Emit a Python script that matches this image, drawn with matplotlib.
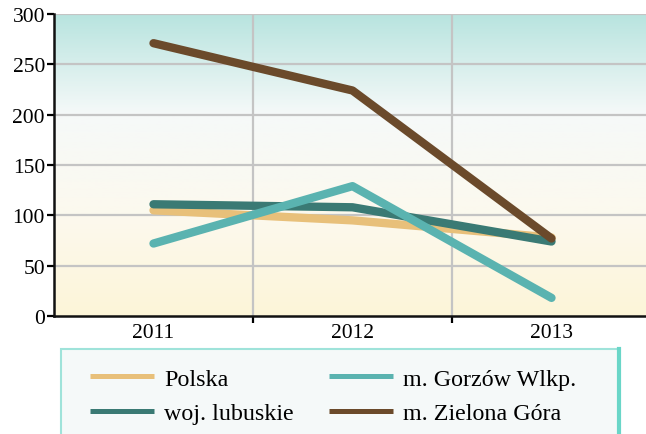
import numpy as np
import matplotlib.pyplot as plt
from matplotlib.colors import LinearSegmentedColormap
from matplotlib.patches import Rectangle

plt.rcParams['font.family'] = ['Liberation Serif', 'DejaVu Serif']

years = ['2011', '2012', '2013']
polska = [105, 95, 78]
lubuskie = [111, 108, 74]
gorzow = [72, 129, 18]
zielona_gora = [271, 224, 77]

series = [
    ('Polska', polska, '#e8c07a'),
    ('woj. lubuskie', lubuskie, '#3a7a74'),
    ('m. Gorzów Wlkp.', gorzow, '#5ab3b0'),
    ('m. Zielona Góra', zielona_gora, '#6b4a2b'),
]

fig = plt.figure(figsize=(6.46, 4.35), dpi=100)
ax = fig.add_axes([54/646, 1-317/435, (651-54)/646, (317-15)/435])

# background gradient: teal at the top, white in the middle, pale yellow at the bottom
cmap = LinearSegmentedColormap.from_list('bg', ['#fdf5d8', '#fcf9ee', '#f6f9f9', '#b8e4df'])
grad = np.linspace(0, 1, 256).reshape(-1, 1)
ax.imshow(grad, cmap=cmap, aspect='auto', origin='lower',
          extent=(-0.5, 2.5, 0, 300), zorder=0)

x = np.arange(len(years))
for name, vals, col in series:
    ax.plot(x, vals, color=col, lw=6, solid_capstyle='round',
            solid_joinstyle='round', label=name, zorder=3)

ax.set_xlim(-0.5, 2.5)
ax.set_ylim(0, 300)
ax.set_yticks(range(0, 301, 50))
ax.set_xticks(x)
ax.set_xticklabels(years)
ax.set_xticks([0.5, 1.5], minor=True)

for yv in range(50, 301, 50):
    ax.axhline(yv, color='#c4c4c4', lw=1.6, zorder=1)
for xv in [0.5, 1.5]:
    ax.axvline(xv, color='#c4c4c4', lw=1.6, zorder=1)

ax.tick_params(axis='y', direction='out', length=5, width=1.6, labelsize=15.5, pad=1.5)
ax.tick_params(axis='x', which='major', length=0, labelsize=15.5, pad=5)
ax.tick_params(axis='x', which='minor', direction='out', length=5, width=1.6)

for s in ['top', 'right']:
    ax.spines[s].set_visible(False)
for s in ['left', 'bottom']:
    ax.spines[s].set_linewidth(1.8)
    ax.spines[s].set_color('#111111')

# legend panel
panel = Rectangle((61/646, -0.05), (619-61)/646, 1-349.5/435+0.05,
                  transform=fig.transFigure, facecolor='#f5f9f9',
                  edgecolor='#9fe3da', lw=1.5, zorder=0)
fig.patches.append(panel)
fig.add_artist(plt.Line2D([619/646, 619/646], [0, 1-349.5/435],
                          transform=fig.transFigure, color='#6ad6c8', lw=3))

handles, labels = ax.get_legend_handles_labels()
leg = fig.legend(handles, labels, ncol=2, frameon=False,
                 loc='upper left', bbox_to_anchor=(78/646, 1-357/435),
                 fontsize=17.3, handlelength=2.65, handletextpad=0.42,
                 columnspacing=1.5, labelspacing=0.52, borderpad=0)
for ln in leg.get_lines():
    ln.set_linewidth(3.6)
    ln.set_solid_capstyle('butt')

fig.savefig('out.png', dpi=100)
